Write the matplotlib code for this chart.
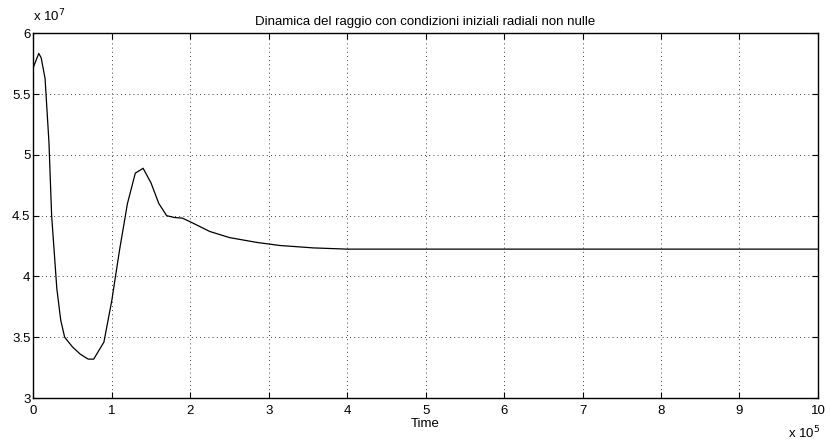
import numpy as np
import matplotlib
matplotlib.use('Agg')
import matplotlib.pyplot as plt
from matplotlib.ticker import FuncFormatter, MultipleLocator

plt.rcParams['font.family'] = ['Liberation Sans', 'DejaVu Sans']

# Tempo (in unita di 1e5) e raggio (in unita di 1e7)
tempo = np.array([0.0, 0.07, 0.1, 0.15, 0.2, 0.234, 0.3, 0.35, 0.4, 0.5, 0.6, 0.7, 0.77,
                  0.9, 1.0, 1.1, 1.2, 1.3, 1.4, 1.5, 1.6, 1.7, 1.8, 1.9, 2.0, 2.25,
                  2.5, 2.85, 3.14, 3.57, 4.0, 5.0, 6.0, 7.0, 8.0, 9.0, 10.0])
raggio = np.array([5.72, 5.835, 5.80, 5.63, 5.10, 4.50, 3.90, 3.64, 3.50, 3.42, 3.36, 3.32, 3.32,
                   3.46, 3.80, 4.22, 4.60, 4.85, 4.89, 4.77, 4.60, 4.50, 4.485, 4.48, 4.45, 4.37,
                   4.32, 4.28, 4.255, 4.235, 4.225, 4.225, 4.225, 4.225, 4.225, 4.225, 4.225])
scala_t = 1e5
scala_r = 1e7

fig = plt.figure(figsize=(8.3, 4.42), dpi=100)
ax = fig.add_axes([0.0401, 0.0995, 0.9454, 0.825])
ax.plot(tempo*scala_t, raggio*scala_r, color='black', linewidth=0.9)

ax.set_xlim(0, 10*scala_t)
ax.set_ylim(3*scala_r, 6*scala_r)
ax.xaxis.set_major_locator(MultipleLocator(scala_t))
ax.yaxis.set_major_locator(MultipleLocator(0.5*scala_r))
ax.xaxis.set_major_formatter(FuncFormatter(lambda v, p: '%g' % (v/scala_t)))
ax.yaxis.set_major_formatter(FuncFormatter(lambda v, p: '%g' % (v/scala_r)))
ax.tick_params(direction='in', length=4, width=0.8, top=True, right=True,
               labelsize=9.5)
ax.tick_params(axis='x', pad=5)
ax.tick_params(axis='y', pad=2)
ax.grid(True, linestyle=(0, (1, 4)), color='black', linewidth=0.6)
for s in ax.spines.values():
    s.set_linewidth(1.0)

ax.set_title('Dinamica del raggio con condizioni iniziali radiali non nulle', fontsize=9.5, pad=6)
ax.set_xlabel('Time', fontsize=9.5, labelpad=1)

# moltiplicatori in stile MATLAB
fig.text(0.0401, 0.945, r'x 10$^{7}$', fontsize=9.5, ha='left', va='bottom')
fig.text(0.988, 0.002, r'x 10$^{5}$', fontsize=9.5, ha='right', va='bottom')

fig.savefig('out.png', dpi=100)
plt.close()
